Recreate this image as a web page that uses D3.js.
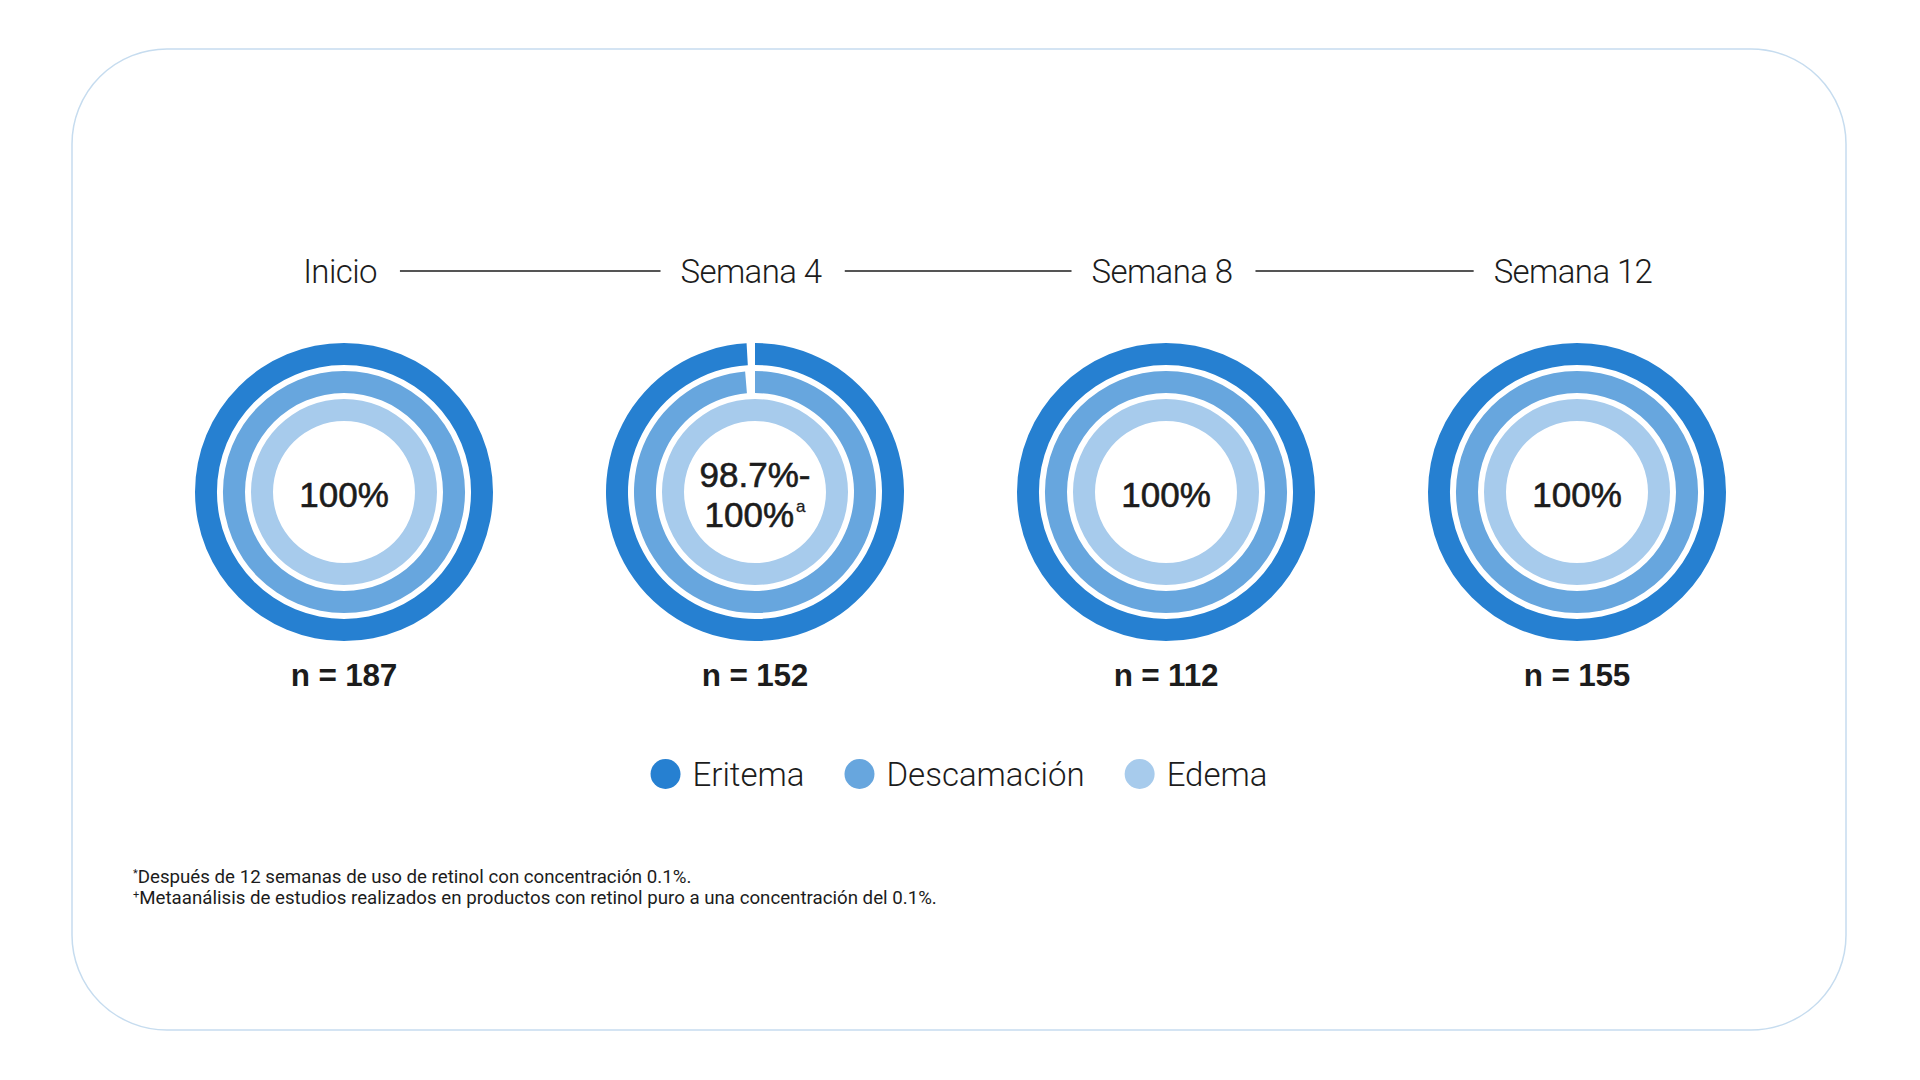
<!DOCTYPE html>
<html>
<head>
<meta charset="utf-8">
<script src="https://cdn.jsdelivr.net/npm/d3@7"></script>
<style>
  body { margin: 0; background: #fff; }
  svg { display: block; }
</style>
</head>
<body>
<svg id="chart" width="1920" height="1080"></svg>
<script>
// data
const timepoints = ['Inicio', 'Semana 4', 'Semana 8', 'Semana 12'];
const sampleSizes = [187, 152, 112, 155];
const eritema = [100, 99.1, 100, 100];
const descamacion = [100, 98.7, 100, 100];
const edema = [100, 100, 100, 100];
const centerLabels = [['100%'], ['98.7%-', '100%'], ['100%'], ['100%']];
const centerNotes = ['', 'a', '', ''];
const seriesNames = ['Eritema', 'Descamación', 'Edema'];
const seriesColors = ['#2680d1', '#67a6de', '#a7cbec'];
const footMarks = ['*', '+'];
const footTexts = [
  'Después de 12 semanas de uso de retinol con concentración 0.1%.',
  'Metaanálisis de estudios realizados en productos con retinol puro a una concentración del 0.1%.'
];

const ink = '#1c1c1c';
const lightFont = 'Roboto, "Liberation Sans", sans-serif';
const boldFont = '"Liberation Sans", Arial, sans-serif';

const svg = d3.select('#chart');

// card outline
svg.append('rect')
  .attr('x', 72).attr('y', 49)
  .attr('width', 1774).attr('height', 981)
  .attr('rx', 95).attr('ry', 95)
  .attr('fill', 'none')
  .attr('stroke', '#c6dcef')
  .attr('stroke-width', 1.5);

// scales
const x = d3.scalePoint().domain(timepoints).range([344, 1577]);
const angle = d3.scaleLinear().domain([0, 100]).range([0, 2 * Math.PI]);
const ring = d3.scaleBand().domain(seriesNames).range([149, 71]).paddingInner(0.214);
const color = d3.scaleOrdinal().domain(seriesNames).range(seriesColors);

const cy = 492;

// header: timepoint labels joined by lines
const header = svg.append('g').attr('class', 'header');
const headLabels = header.selectAll('text')
  .data(timepoints)
  .enter().append('text')
  .attr('x', d => x(d) - 4)
  .attr('y', 283)
  .attr('text-anchor', 'middle')
  .style('font-family', lightFont)
  .style('font-weight', 300)
  .style('font-size', '33px')
  .style('letter-spacing', '-0.6px')
  .style('fill', ink)
  .text(d => d);

const boxes = headLabels.nodes().map(n => n.getBBox());
for (let i = 0; i < boxes.length - 1; i++) {
  header.append('line')
    .attr('x1', boxes[i].x + boxes[i].width + 23)
    .attr('x2', boxes[i + 1].x - 20)
    .attr('y1', 271).attr('y2', 271)
    .attr('stroke', ink)
    .attr('stroke-width', 1.6);
}

// donuts
const rows = timepoints.map((t, i) => ({
  t: t,
  n: sampleSizes[i],
  values: [eritema[i], descamacion[i], edema[i]],
  label: centerLabels[i],
  note: centerNotes[i]
}));

const donut = svg.selectAll('g.donut')
  .data(rows)
  .enter().append('g')
  .attr('class', 'donut')
  .attr('transform', d => `translate(${x(d.t)},${cy})`);

donut.selectAll('path')
  .data(d => d.values.map((v, j) => ({name: seriesNames[j], value: v})))
  .enter().append('path')
  .attr('fill', d => color(d.name))
  .attr('d', d => d3.arc()
    .innerRadius(ring(d.name))
    .outerRadius(ring(d.name) + ring.bandwidth())
    .startAngle(0)
    .endAngle(angle(d.value))());

// center text
donut.each(function (d) {
  const g = d3.select(this);
  const lines = d.label;
  const lh = 40;
  const y0 = 15 - (lines.length - 1) * lh / 2;
  lines.forEach((s, k) => {
    const t = g.append('text')
      .attr('x', 0)
      .attr('y', y0 + k * lh)
      .attr('text-anchor', 'middle')
      .style('font-family', boldFont)
      .style('font-weight', 400)
      .style('font-size', '35px')
      .style('fill', ink)
      .style('stroke', ink)
      .style('stroke-width', 0.6)
      .text(s);
    if (k === lines.length - 1 && d.note) {
      t.append('tspan')
        .attr('dx', 2)
        .attr('dy', -15)
        .style('font-size', '17px')
        .style('stroke-width', 0.3)
        .text(d.note);
    }
  });
});

// n labels
donut.append('text')
  .attr('x', 0)
  .attr('y', 686 - cy)
  .attr('text-anchor', 'middle')
  .style('font-family', boldFont)
  .style('font-weight', 700)
  .style('font-size', '31.5px')
  .style('letter-spacing', '-0.2px')
  .style('fill', ink)
  .text(d => `n = ${d.n}`);

// legend
const legend = svg.append('g').attr('class', 'legend');
const legItems = legend.selectAll('g')
  .data(seriesNames)
  .enter().append('g');
legItems.append('circle')
  .attr('r', 15)
  .attr('cy', 774)
  .attr('fill', d => color(d));
legItems.append('text')
  .attr('y', 786)
  .style('font-family', lightFont)
  .style('font-weight', 300)
  .style('font-size', '33px')
  .style('fill', ink)
  .text(d => d);

let cursor = 0;
const legPos = [];
legItems.each(function () {
  const w = d3.select(this).select('text').node().getComputedTextLength();
  legPos.push(cursor);
  cursor += 30 + 12 + w + 40;
});
const legWidth = cursor - 40;
const legStart = 959 - legWidth / 2;
legItems.each(function (d, i) {
  const g = d3.select(this);
  g.select('circle').attr('cx', legStart + legPos[i] + 15);
  g.select('text').attr('x', legStart + legPos[i] + 42);
});

// footnotes
const foot = svg.append('g').attr('class', 'footnotes');
footTexts.forEach((s, i) => {
  const t = foot.append('text')
    .attr('x', 133)
    .attr('y', 883 + i * 21)
    .style('font-family', lightFont)
    .style('font-weight', 400)
    .style('font-size', '18.7px')
    .style('fill', ink);
  t.append('tspan')
    .attr('dy', -6)
    .style('font-size', '11px')
    .text(footMarks[i]);
  t.append('tspan')
    .attr('dy', 6)
    .text(s);
});
</script>
</body>
</html>
